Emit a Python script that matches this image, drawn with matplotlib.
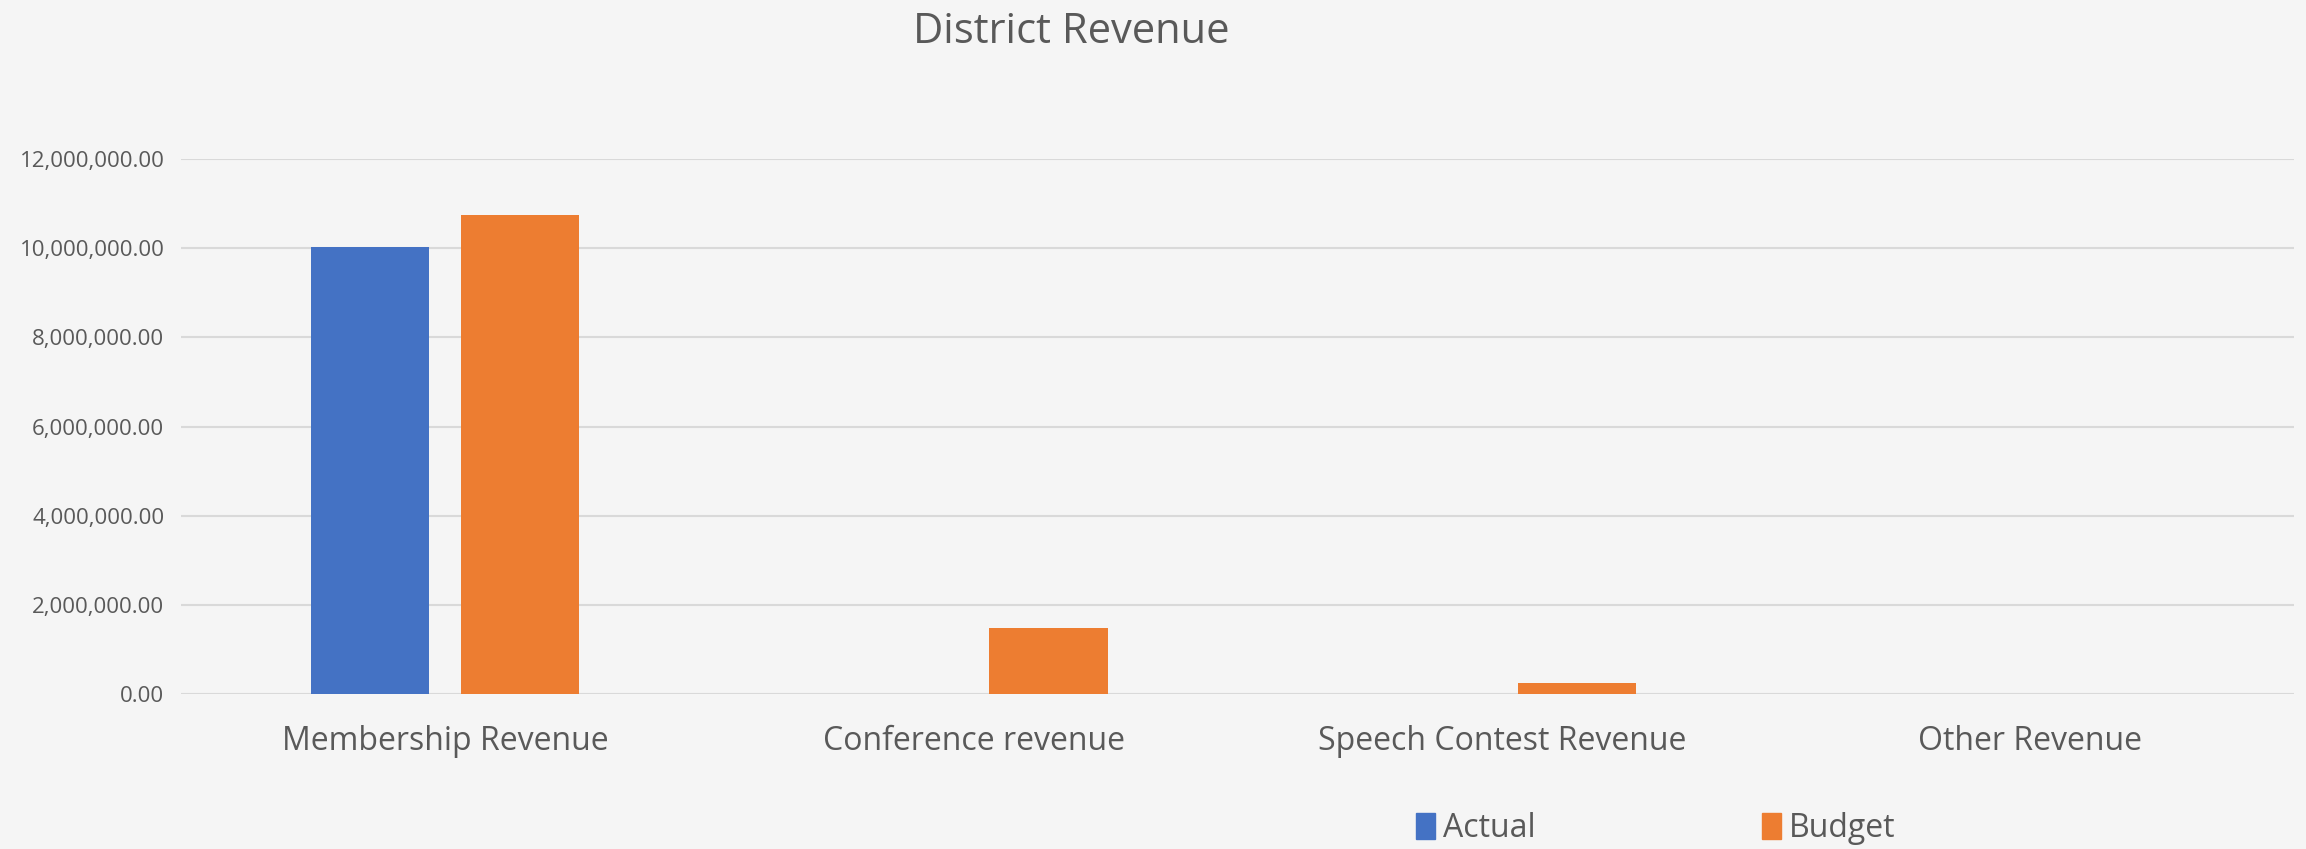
import matplotlib.pyplot as plt
import numpy as np
from matplotlib.ticker import FuncFormatter
from matplotlib.patches import Patch

categories = ['Membership Revenue', 'Conference revenue', 'Speech Contest Revenue', 'Other Revenue']
actual = [10020000, 0, 0, 0]
budget = [10730000, 1500000, 250000, 0]
yticks = [0, 2000000, 4000000, 6000000, 8000000, 10000000, 12000000]

bg = '#f5f5f5'
text_color = '#595959'
plt.rcParams['font.family'] = ['Open Sans', 'DejaVu Sans']

fig = plt.figure(figsize=(23.06, 8.49), dpi=100, facecolor=bg)
ax = fig.add_axes([0.0785, 0.182, 0.9165, 0.631], facecolor=bg)

x = np.arange(len(categories))
ax.bar(x - 0.142, actual, width=0.224, color='#4472C4', zorder=3)
ax.bar(x + 0.142, budget, width=0.224, color='#ED7D31', zorder=3)

ax.set_xlim(-0.5, len(categories) - 0.5)
ax.set_ylim(0, 12000000)
ax.set_yticks(yticks)
ax.yaxis.set_major_formatter(FuncFormatter(lambda v, p: f'{v:,.2f}'))
ax.set_xticks(x)
ax.set_xticklabels(categories, fontsize=23, color=text_color)
ax.tick_params(axis='x', length=0, pad=22)
ax.tick_params(axis='y', length=0, labelsize=16, labelcolor=text_color, pad=12)
ax.grid(axis='y', color='#d9d9d9', linewidth=1.5, zorder=0)
for s in ax.spines.values():
    s.set_visible(False)

fig.text(0.4645, 0.962, 'District Revenue', ha='center', va='center',
         fontsize=30, color=text_color)

handles = [Patch(color='#4472C4', label='Actual'), Patch(color='#ED7D31', label='Budget')]
fig.legend(handles=handles, loc='center', bbox_to_anchor=(0.718, 0.024), ncol=2,
           frameon=False, fontsize=23, labelcolor=text_color, handlelength=0.6,
           handleheight=0.9, handletextpad=0.25, columnspacing=7.1)

fig.savefig('out.png', dpi=100, facecolor=bg)
